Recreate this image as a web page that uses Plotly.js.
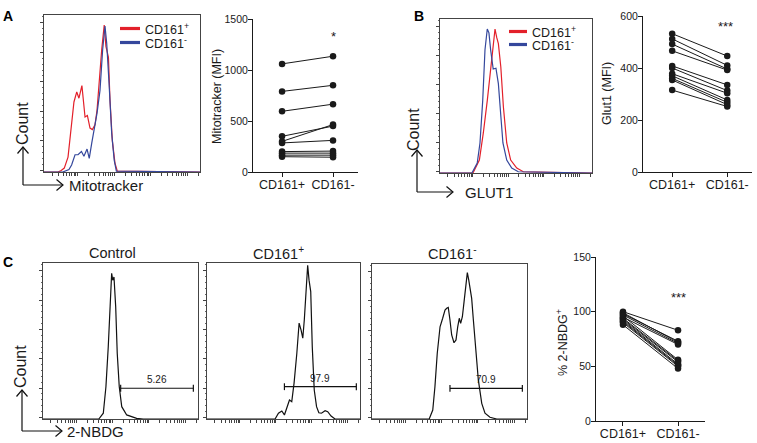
<!DOCTYPE html>
<html><head><meta charset="utf-8">
<script src="https://cdn.plot.ly/plotly-3.0.1.min.js"></script>
<style>html,body{margin:0;padding:0;background:#fff}#chart{width:757px;height:443px}</style>
</head><body><div id="chart"></div>
<script>
// ---------- data ----------
const groups = ['CD161+', 'CD161-'];
// paired MFI / % values
const mitoPos = [1060, 790, 595, 350, 300, 285, 200, 185, 165, 150];
const mitoNeg = [1135, 850, 665, 450, 465, 310, 205, 185, 165, 145];
const glutPos = [532, 512, 492, 466, 408, 400, 378, 370, 360, 354, 315];
const glutNeg = [446, 410, 396, 392, 335, 313, 303, 277, 268, 259, 252];
const nbdgPos = [100, 99, 98, 97, 96, 95, 94, 93, 92, 91, 90, 88];
const nbdgNeg = [83, 72, 73, 71, 56, 70, 55, 54, 52, 51, 50, 48];
// histograms (channel position 0-100, normalised count 0-100)
const mitoPosX = [0, 9, 11, 13, 15.4, 17.9, 19.2, 21, 22.4, 24.3, 25, 26.3, 27.8, 29.5, 31, 32.7, 34, 35.5, 37, 38.6, 39.7, 41.3, 42.3, 43.8, 45.5, 47, 100];
const mitoPosY = [0, 0, 1, 2.5, 9.5, 35, 44.6, 51, 47, 55, 46, 35, 36, 28, 27, 30, 39.5, 60.5, 78, 93.6, 80, 73, 46, 20, 5.7, 0.6, 0];
const mitoNegX = [0, 12, 16, 17.7, 19.9, 21.8, 24, 25.6, 27.6, 29, 30.6, 32.3, 34, 35.9, 37.6, 39.1, 40.2, 41.7, 43.4, 45, 46.4, 100];
const mitoNegY = [0, 0, 1.5, 4.5, 11, 11, 13, 10, 14.6, 8.7, 18.4, 27, 37.5, 52, 78, 93, 82, 56.5, 24.6, 7.6, 0.6, 0];
const glutPosX = [0, 21.7, 25.9, 28.5, 31.1, 32.9, 34.7, 36.2, 37.3, 38.4, 40, 41.7, 43.9, 46.5, 50.5, 54.8, 100];
const glutPosY = [0, 0, 8.4, 26, 47, 62, 80, 93.5, 88, 84, 69, 43, 19.5, 8.4, 3.2, 0.8, 0];
const glutNegX = [0, 21, 24.5, 26.3, 28.1, 29.6, 31.1, 32.2, 33.3, 35, 36.8, 38.4, 40.1, 41.4, 43.9, 47.2, 51.5, 100];
const glutNegY = [0, 0, 6.5, 19.5, 47, 80, 93.5, 91, 80, 67.5, 68, 58, 36, 19.5, 8.4, 3.2, 0.8, 0];
const ctrlX = [0, 36, 38.9, 40.6, 42.1, 43.2, 44.3, 45, 45.8, 46.9, 47.9, 49.2, 50.8, 54, 60.4, 64.7, 100];
const ctrlY = [0, 0, 3.7, 20.7, 46.3, 74, 93.4, 89, 91, 72, 42, 20.7, 7.9, 2.6, 0.4, 0, 0];
const nbdgPosX = [0, 44.5, 46.7, 48.9, 50.6, 52.2, 53.9, 55.4, 56.9, 58.7, 60.2, 61.5, 62.6, 63.6, 64.7, 65.8, 66.7, 67.8, 68.8, 70.1, 71.6, 73.1, 74.8, 77.2, 78.9, 81.1, 83.7, 100];
const nbdgPosY = [0, 0, 3.7, 5.1, 2.6, 7.9, 12.2, 11.1, 23, 42, 61.5, 57, 51.8, 63.6, 85, 98.5, 89, 81.7, 46.4, 18.6, 7.9, 4, 3.7, 5.3, 4.7, 1.9, 0, 0];
const nbdgNegX = [0, 36.9, 39.2, 40.6, 42.1, 43.9, 45.6, 47.1, 48.2, 49.2, 50.3, 51.4, 52.9, 54.2, 55.3, 56.3, 57.2, 58.3, 59.4, 60.4, 61.5, 62.4, 63.2, 64.3, 65.4, 67.1, 68.6, 70.8, 72.9, 76.1, 80.5, 100];
const nbdgNegY = [0, 0, 5.8, 20.8, 42.4, 59.5, 65, 70.3, 71.4, 72, 63.9, 54.2, 49.2, 51, 59.5, 65, 61.7, 66, 75.7, 85.4, 94.4, 89.7, 83.2, 77.8, 63.9, 42.4, 25.2, 10.1, 3.7, 1.1, 0, 0];
// gates (panel C)
const gateStart = [50.1, 50.6, 50.3];
const gateEnd = [97, 97.6, 97];
const gateLevel = [19.7, 20.7, 19.8];
const gateLabels = ['5.26', '97.9', '70.9'];
const histTitles = ['Control', 'CD161<sup>+</sup>', 'CD161<sup>-</sup>'];

// ---------- layout helpers ----------
const W = 757, H = 443;
const FONT = 'Liberation Sans, Arial, sans-serif';
const RED = '#e3202a', BLUE = '#34479c', INK = '#1a1a1a';
const dx = (a, b) => [a / W, b / W];
const dy = (t, b) => [1 - b / H, 1 - t / H];
const P = (x, y) => (x / W).toFixed(5) + ',' + (1 - y / H).toFixed(5);

// biexponential-looking tick marks for flow axes (styling only)
const decades = [-1.9, 21.5, 44.9, 68.3, 91.7];
const logTicks = [];
decades.forEach(d => { for (let k = 1; k <= 9; k++) { const v = d + 23.4 * Math.log10(k); if (v >= 0 && v <= 100) logTicks.push(v); } });

function histX(domain, anchor) {
  return {domain, anchor, range: [0, 100], showline: true, mirror: true, linecolor: '#444', linewidth: 1,
    ticks: 'outside', ticklen: 3, tickcolor: '#444', tickvals: logTicks, showticklabels: false,
    showgrid: false, zeroline: false, fixedrange: true};
}
function histY(domain, anchor) {
  return {domain, anchor, range: [0, 100], showline: true, mirror: true, linecolor: '#444', linewidth: 1,
    ticks: 'outside', ticklen: 3, tickcolor: '#444', dtick: 18.8, tick0: 1, showticklabels: false,
    minor: {ticks: 'outside', ticklen: 1.5, dtick: 3.76, tick0: 1, tickcolor: '#666'},
    showgrid: false, zeroline: false, fixedrange: true};
}
function scatX(domain, anchor, range) {
  return {domain, anchor, type: 'category', categoryarray: groups, range, showline: true, linecolor: INK,
    linewidth: 1, ticks: 'outside', ticklen: 4, tickcolor: INK, tickfont: {size: 12.5, color: INK},
    ticklabelstandoff: -3, showgrid: false, zeroline: false, fixedrange: true};
}
function scatY(domain, anchor, range, dtick) {
  return {domain, anchor, range, dtick, tick0: 0, showline: true, linecolor: INK, linewidth: 1,
    ticks: 'outside', ticklen: 4, tickcolor: INK, tickfont: {size: 10.5, color: INK},
    ticklabelstandoff: -2, showgrid: false, zeroline: false, fixedrange: true};
}

// ---------- traces ----------
const traces = [];
function hist(x, y, color, xa, ya, w) {
  traces.push({type: 'scatter', mode: 'lines', x, y, xaxis: xa, yaxis: ya,
    line: {color, width: w || 1.2}, hoverinfo: 'skip'});
}
hist(mitoPosX, mitoPosY, RED, 'x', 'y');
hist(mitoNegX, mitoNegY, BLUE, 'x', 'y');
hist(glutPosX, glutPosY, RED, 'x3', 'y3');
hist(glutNegX, glutNegY, BLUE, 'x3', 'y3');
hist(ctrlX, ctrlY, '#111', 'x5', 'y5');
hist(nbdgPosX, nbdgPosY, '#111', 'x6', 'y6');
hist(nbdgNegX, nbdgNegY, '#111', 'x7', 'y7');

function pairs(a, b, xa, ya) {
  a.forEach((v, i) => traces.push({type: 'scatter', mode: 'lines+markers', x: groups, y: [v, b[i]],
    xaxis: xa, yaxis: ya, line: {color: INK, width: 1}, marker: {color: INK, size: 6.5},
    cliponaxis: false, hoverinfo: 'y'}));
}
pairs(mitoPos, mitoNeg, 'x2', 'y2');
pairs(glutPos, glutNeg, 'x4', 'y4');
pairs(nbdgPos, nbdgNeg, 'x8', 'y8');

// ---------- shapes ----------
const shapes = [];
const pline = (pts, w, c) => shapes.push({type: 'path', xref: 'paper', yref: 'paper',
  path: pts.map((p, i) => (i ? 'L' : 'M') + P(p[0], p[1])).join(''), line: {color: c || '#111', width: w || 1.2}});
function cornerArrow(cx, cy, topY, rightX) {
  pline([[cx, cy], [cx, topY]]);
  pline([[cx - 5.5, topY + 6.5], [cx, topY], [cx + 5.5, topY + 6.5]]);
  pline([[cx, cy], [rightX, cy]]);
  pline([[rightX - 6.5, cy - 5.5], [rightX, cy], [rightX - 6.5, cy + 5.5]]);
}
cornerArrow(23, 185, 147, 63);
cornerArrow(417, 192, 150, 453);
cornerArrow(22, 431, 390, 62);
// legends
pline([[120, 28.5], [140, 28.5]], 3.2, RED);
pline([[120, 42.5], [140, 42.5]], 3.2, BLUE);
pline([[509, 31.5], [527, 31.5]], 3.2, RED);
pline([[509, 44.5], [527, 44.5]], 3.2, BLUE);
// gates
['5', '6', '7'].forEach((n, i) => {
  const xr = 'x' + n, yr = 'y' + n, s = gateStart[i], e = gateEnd[i], g = gateLevel[i];
  shapes.push({type: 'line', xref: xr, yref: yr, x0: s, x1: e, y0: g, y1: g, line: {color: '#111', width: 1.2}});
  shapes.push({type: 'line', xref: xr, yref: yr, x0: s, x1: s, y0: g - 2.2, y1: g + 2.2, line: {color: '#111', width: 1.2}});
  shapes.push({type: 'line', xref: xr, yref: yr, x0: e, x1: e, y0: g - 2.2, y1: g + 2.2, line: {color: '#111', width: 1.2}});
});

// ---------- annotations ----------
const ann = [];
const txt = (t, x, y, o) => ann.push(Object.assign({text: t, x: x / W, y: 1 - y / H, xref: 'paper', yref: 'paper',
  showarrow: false, xanchor: 'center', yanchor: 'middle', font: {size: 13, color: INK}}, o || {}));
txt('<b>A</b>', 8, 16, {font: {size: 14, color: '#000'}});
txt('<b>B</b>', 419, 16, {font: {size: 14, color: '#000'}});
txt('<b>C</b>', 8, 262, {font: {size: 14, color: '#000'}});
txt('Count', 22, 124, {textangle: -90, font: {size: 16, color: INK}});
txt('Count', 413, 130, {textangle: -90, font: {size: 16, color: INK}});
txt('Count', 20, 367, {textangle: -90, font: {size: 16, color: INK}});
txt('Mitotracker', 67, 185, {xanchor: 'left', font: {size: 15, color: INK}});
txt('GLUT1', 463, 192, {xanchor: 'left', font: {size: 15, color: INK}});
txt('2-NBDG', 65, 431, {xanchor: 'left', font: {size: 15, color: INK}});
txt('CD161<sup>+</sup>', 143, 29, {xanchor: 'left', font: {size: 12.5, color: INK}});
txt('CD161<sup>-</sup>', 143, 43, {xanchor: 'left', font: {size: 12.5, color: INK}});
txt('CD161<sup>+</sup>', 530, 32, {xanchor: 'left', font: {size: 12.5, color: INK}});
txt('CD161<sup>-</sup>', 530, 45, {xanchor: 'left', font: {size: 12.5, color: INK}});
txt('Mitotracker (MFI)', 217, 96, {textangle: -90, font: {size: 12.5, color: INK}});
txt('Glut1 (MFI)', 607, 94, {textangle: -90, font: {size: 12.5, color: INK}});
txt('% 2-NBDG<sup>+</sup>', 562, 343, {textangle: -90, font: {size: 12.5, color: INK}});
txt('*', 333, 36, {font: {size: 13, color: INK}});
txt('***', 725, 27, {font: {size: 13, color: INK}});
txt('***', 678, 297, {font: {size: 13, color: INK}});
[112, 278, 452].forEach((x, i) => txt(histTitles[i], x, 253, {font: {size: 14.5, color: INK}}));
['5', '6', '7'].forEach((n, i) => ann.push({text: gateLabels[i], xref: 'x' + n, yref: 'y' + n,
  x: (gateStart[i] + gateEnd[i]) / 2, y: gateLevel[i], yanchor: 'bottom', yshift: 1, showarrow: false,
  font: {size: 10, color: INK}}));

const layout = {
  width: W, height: H, margin: {l: 0, r: 0, t: 0, b: 0}, paper_bgcolor: '#fff', plot_bgcolor: 'rgba(0,0,0,0)',
  showlegend: false, font: {family: FONT, color: INK},
  xaxis: histX(dx(44, 200), 'y'), yaxis: histY(dy(15, 172), 'x'),
  xaxis2: scatX(dx(253, 358), 'y2', [-0.57, 1.49]), yaxis2: scatY(dy(19, 172), 'x2', [0, 1500], 500),
  xaxis3: histX(dx(440, 592), 'y3'), yaxis3: histY(dy(19, 173), 'x3'),
  xaxis4: scatX(dx(643, 752), 'y4', [-0.53, 1.45]), yaxis4: scatY(dy(16, 172), 'x4', [0, 600], 200),
  xaxis5: histX(dx(43, 198), 'y5'), yaxis5: histY(dy(263, 419), 'x5'),
  xaxis6: histX(dx(207, 360), 'y6'), yaxis6: histY(dy(263, 419), 'x6'),
  xaxis7: histX(dx(372, 527), 'y7'), yaxis7: histY(dy(264, 419), 'x7'),
  xaxis8: scatX(dx(596, 705), 'y8', [-0.49, 1.49]), yaxis8: scatY(dy(257, 421), 'x8', [0, 150], 50),
  shapes, annotations: ann
};
Plotly.newPlot('chart', traces, layout, {staticPlot: true, displayModeBar: false});
</script></body></html>
